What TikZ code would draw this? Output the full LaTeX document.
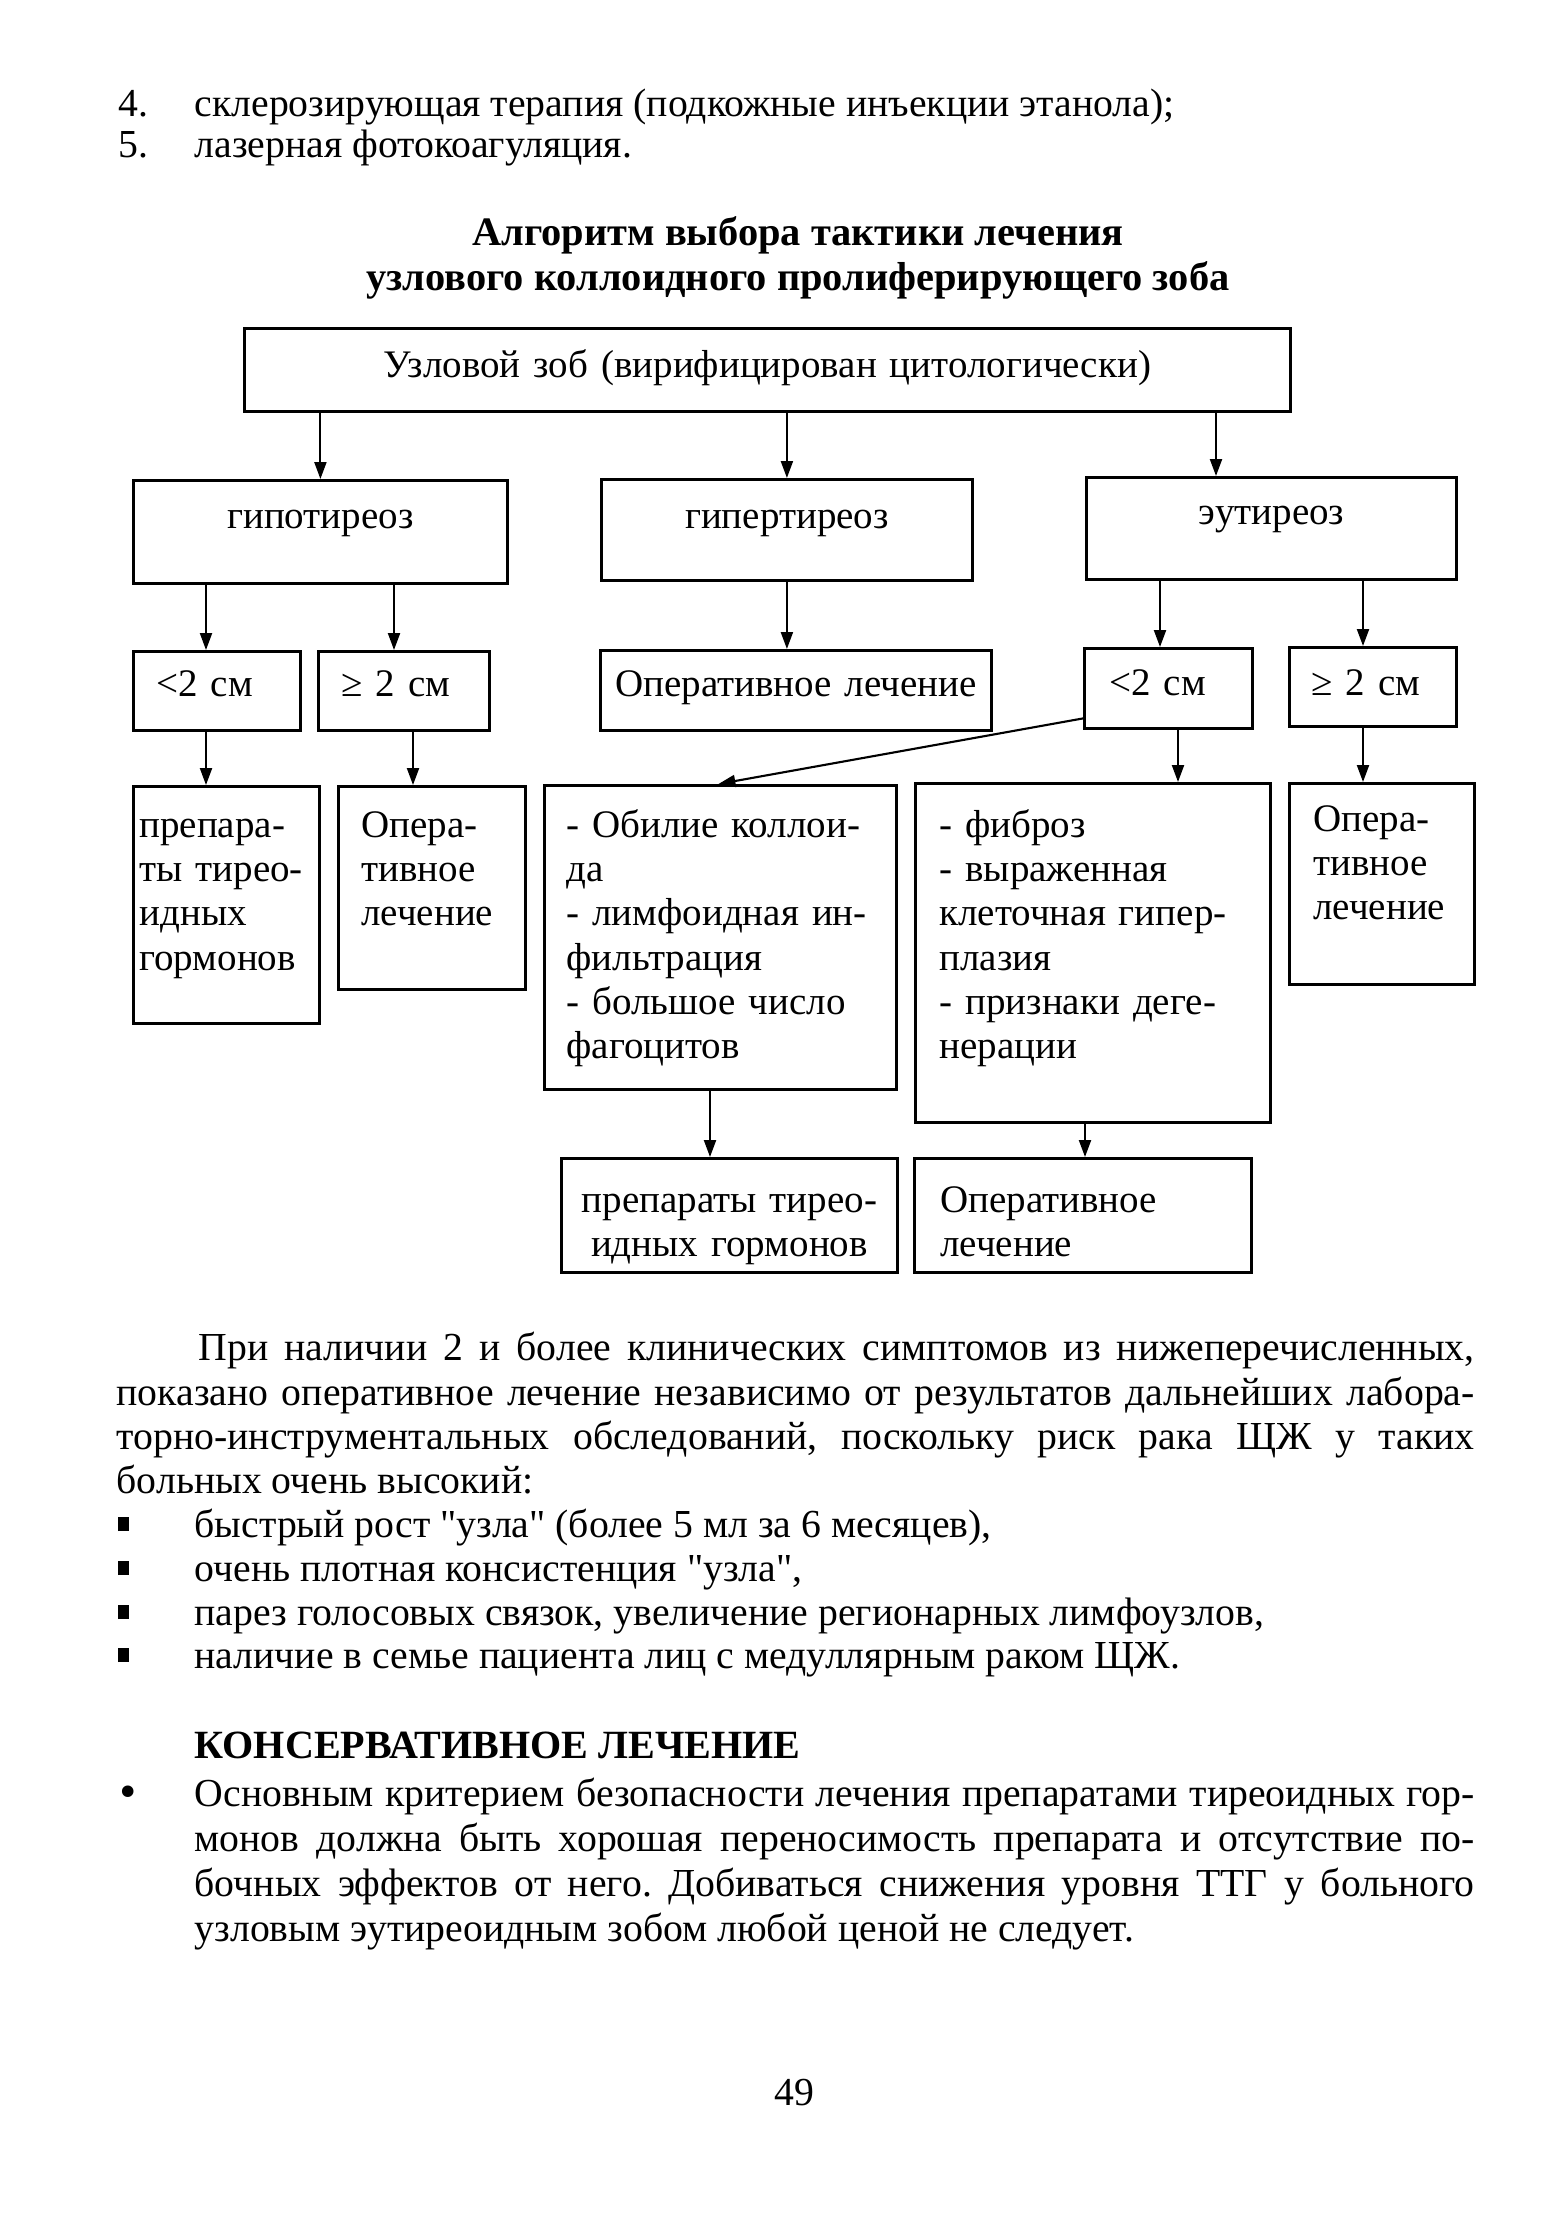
\documentclass[tikz,border=0pt]{standalone}
\usepackage{fontspec}
\setmainfont{Liberation Serif}[Ligatures=TeXOff]
\newfontfamily\symfont{DejaVu Sans}
\usetikzlibrary{arrows.meta}
\frenchspacing

\begin{document}
\begin{tikzpicture}[>={Triangle[length=1.7mm,width=1.2mm]},
    box/.style={draw, line width=0.8pt, anchor=north west, inner ysep=0pt,
        font=\fontsize{11.1}{12.6}\selectfont},
    txt/.style={anchor=base west, inner sep=0pt, font=\fontsize{11.3}{12.5}\selectfont},
    arr/.style={->, line width=0.6pt}]
    \useasboundingbox (0,0) rectangle (15.6,-22.25);

    % Конец перечня
    \node[txt] (n4) at (1.18,-1.16) {4.};
    \node[txt] (it4) at (1.94,-1.16) {склерозирующая терапия (подкожные инъекции этанола);};
    \node[txt] (n5) at (1.18,-1.57) {5.};
    \node[txt] (it5) at (1.94,-1.57) {лазерная фотокоагуляция.};

    % Заголовок схемы
    \node[txt, anchor=base, font=\fontsize{11.5}{13}\selectfont\bfseries] (ttl1) at (7.98,-2.45) {Алгоритм выбора тактики лечения};
    \node[txt, anchor=base, font=\fontsize{11.5}{13}\selectfont\bfseries] (ttl2) at (7.98,-2.90) {узлового коллоидного пролиферирующего зоба};

    % Первый и второй уровни
    \node[box, inner xsep=0pt, text width=10.46cm, align=center, text height=4.9mm, text depth=3.4mm] (zob) at (2.43,-3.27) {Узловой зоб (вирифицирован цитологически)};
    \node[box, inner xsep=0pt, text width=3.74cm, align=center, text height=4.8mm, text depth=5.5mm] (hypo) at (1.32,-4.79) {гипотиреоз};
    \node[box, inner xsep=0pt, text width=3.71cm, align=center, text height=4.9mm, text depth=5.2mm] (hyper) at (6.00,-4.78) {гипертиреоз};
    \node[box, inner xsep=0pt, text width=3.70cm, align=center, text height=4.7mm, text depth=5.5mm] (eu) at (10.85,-4.76) {эутиреоз};

    % Размер узла
    \node[box, inner xsep=2.3mm, text width=1.21cm, align=left, text height=4.5mm, text depth=3.4mm] (lt1) at (1.32,-6.50) {<2 см};
    \node[box, inner xsep=2.3mm, text width=1.25cm, align=left, text height=4.5mm, text depth=3.4mm] (ge1) at (3.17,-6.50) {≥ 2 см};
    \node[box, inner xsep=0pt, text width=3.91cm, align=center, text height=4.6mm, text depth=3.4mm] (oper1) at (5.99,-6.49) {Оперативное лечение};
    \node[box, inner xsep=2.5mm, text width=1.18cm, align=left, text height=4.7mm, text depth=3.3mm] (lt2) at (10.83,-6.47) {<2 см};
    \node[box, inner xsep=2.2mm, text width=1.23cm, align=left, text height=4.8mm, text depth=3.1mm] (ge2) at (12.88,-6.46) {≥ 2 см};

    % Четвёртый уровень
    \node[box, inner xsep=0.6mm, text width=1.74cm, align=left, text height=5.1mm, text depth=18.6mm] (prep1) at (1.32,-7.85) {препара-\\\makebox[1.74cm][s]{ты тирео-}\\идных\\гормонов};
    \node[box, inner xsep=2.3mm, text width=1.41cm, align=left, text height=5.1mm, text depth=15.2mm] (oper2) at (3.37,-7.85) {Опера-\\тивное\\лечение};
    \node[box, inner xsep=2.2mm, text width=3.08cm, align=left, text height=5.2mm, text depth=25.2mm] (koll) at (5.43,-7.84) {- Обилие коллои-\\да\\- лимфоидная ин-\\фильтрация\\- большое число\\фагоцитов};
    \node[box, inner xsep=2.4mm, text width=3.07cm, align=left, text height=5.4mm, text depth=28.5mm] (fib) at (9.14,-7.82) {- фиброз\\- выраженная\\клеточная гипер-\\плазия\\- признаки деге-\\нерации};
    \node[box, inner xsep=2.4mm, text width=1.37cm, align=left, text height=4.8mm, text depth=15.3mm] (oper3) at (12.88,-7.82) {Опера-\\тивное\\лечение};

    % Пятый уровень
    \node[box, inner xsep=0pt, text width=3.36cm, align=center, text height=5.4mm, text depth=6.0mm] (prep2) at (5.60,-11.57) {препараты тирео-\\идных гормонов};
    \node[box, inner xsep=2.6mm, text width=2.85cm, align=left, text height=5.4mm, text depth=6.0mm] (oper4) at (9.13,-11.57) {Оперативное\\лечение};

    % Стрелки
    \draw[arr] (zob.south -| hypo.north) -- (hypo.north);
    \draw[arr] (zob.south -| hyper.north) -- (hyper.north);
    \draw[arr] (zob.south -| 12.16,0) -- (eu.north -| 12.16,0);
    \draw[arr] (hypo.south -| 2.06,0) -- (lt1.north -| 2.06,0);
    \draw[arr] (hypo.south -| 3.94,0) -- (ge1.north -| 3.94,0);
    \draw[arr] (hyper.south) -- (oper1.north -| hyper.south);
    \draw[arr] (eu.south -| 11.60,0) -- (lt2.north -| 11.60,0);
    \draw[arr] (eu.south -| 13.63,0) -- (ge2.north -| 13.63,0);
    \draw[arr] (lt1.south -| 2.06,0) -- (prep1.north -| 2.06,0);
    \draw[arr] (ge1.south -| 4.13,0) -- (oper2.north -| 4.13,0);
    \draw[arr] (lt2.south -| 11.78,0) -- (fib.north -| 11.78,0);
    \draw[arr] (ge2.south -| 13.63,0) -- (oper3.north -| 13.63,0);
    \draw[arr] ([yshift=-3mm]lt2.west) -- ([xshift=-0.2mm]koll.north);
    \draw[arr] (koll.south -| 7.10,0) -- (prep2.north -| 7.10,0);
    \draw[arr] (fib.south -| 10.85,0) -- (oper4.north -| 10.85,0);

    % Текст под схемой
    \node[txt] (p1) at (1.98,-13.60) {\makebox[12.76cm][s]{При наличии 2 и более клинических симптомов из нижеперечисленных,}};
    \node[txt] (p2) at (1.16,-14.05) {\makebox[13.58cm][s]{показано оперативное лечение независимо от результатов дальнейших лабора-}};
    \node[txt] (p3) at (1.16,-14.49) {\makebox[13.58cm][s]{торно-инструментальных обследований, поскольку риск рака ЩЖ у таких}};
    \node[txt] (p4) at (1.16,-14.93) {больных очень высокий:};

    \node[txt] (sq1) at (1.17,-15.37) {\rule[0.6mm]{1.1mm}{1.4mm}};
    \node[txt] (b1) at (1.94,-15.37) {быстрый рост "узла" (более 5 мл за 6 месяцев),};
    \node[txt] (sq2) at (1.17,-15.81) {\rule[0.6mm]{1.1mm}{1.4mm}};
    \node[txt] (b2) at (1.94,-15.81) {очень плотная консистенция "узла",};
    \node[txt] (sq3) at (1.17,-16.25) {\rule[0.6mm]{1.1mm}{1.4mm}};
    \node[txt] (b3) at (1.94,-16.25) {парез голосовых связок, увеличение регионарных лимфоузлов,};
    \node[txt] (sq4) at (1.17,-16.68) {\rule[0.6mm]{1.1mm}{1.4mm}};
    \node[txt] (b4) at (1.94,-16.68) {наличие в семье пациента лиц с медуллярным раком ЩЖ.};

    \node[txt, font=\fontsize{11.4}{12.5}\selectfont\bfseries] (hcons) at (1.94,-17.58) {КОНСЕРВАТИВНОЕ ЛЕЧЕНИЕ};
    \node[txt] (dot) at (1.16,-18.06) {{\symfont •}};
    \node[txt] (c1) at (1.94,-18.06) {\makebox[12.80cm][s]{Основным критерием безопасности лечения препаратами тиреоидных гор-}};
    \node[txt] (c2) at (1.94,-18.51) {\makebox[12.80cm][s]{монов должна быть хорошая переносимость препарата и отсутствие по-}};
    \node[txt] (c3) at (1.94,-18.96) {\makebox[12.80cm][s]{бочных эффектов от него. Добиваться снижения уровня ТТГ у больного}};
    \node[txt] (c4) at (1.94,-19.41) {узловым эутиреоидным зобом любой ценой не следует.};

    \node[txt, anchor=base] (pnum) at (7.94,-21.05) {49};
\end{tikzpicture}
\end{document}
